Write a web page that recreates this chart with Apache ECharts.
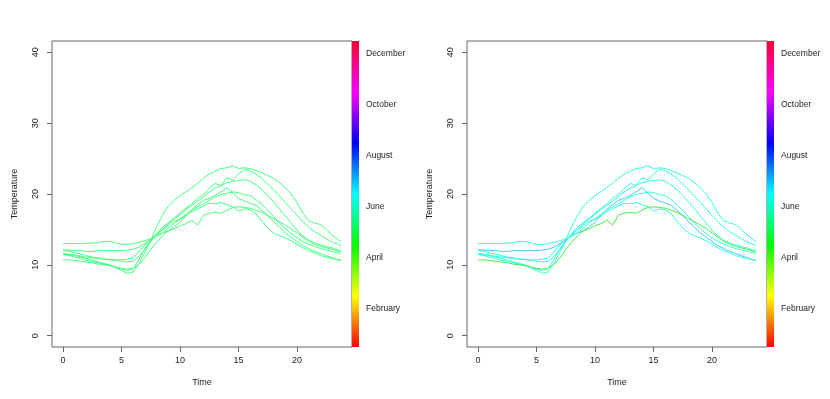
<!DOCTYPE html>
<html>
<head>
<meta charset="utf-8">
<script src="https://cdn.jsdelivr.net/npm/echarts@6/dist/echarts.min.js"></script>
<style>
html, body { margin: 0; padding: 0; background: #fff; }
#chart { width: 830px; height: 399px; }
</style>
</head>
<body>
<div id="chart"></div>
<script>
// hours of the day (every half hour, last reading at 23:45)
var times = [0,0.5,1,1.5,2,2.5,3,3.5,4,4.5,5,5.5,6,6.5,7,7.5,8,8.5,9,9.5,
	10,10.5,11,11.5,12,12.5,13,13.5,14,14.5,15,15.5,16,16.5,17,17.5,18,18.5,19,19.5,
	20,20.5,21,21.5,22,22.5,23,23.5,23.75];

// one temperature curve per day
var day1 = [11.5,11.4,11.3,11.1,10.9,10.7,10.4,10.2,10.0,9.6,
	9.2,8.8,9.0,10.2,11.8,13.5,15.4,17.0,18.3,19.1,
	19.8,20.3,20.9,21.5,22.2,22.8,23.2,23.6,23.7,24.0,
	23.6,23.7,23.6,23.3,23.0,22.6,22.2,21.6,20.9,20.0,
	18.8,17.3,16.2,15.9,15.7,15.0,14.2,13.6,13.3];
var day2 = [12.0,11.9,11.7,11.5,11.3,11.1,11.0,10.8,10.7,10.6,
	10.5,10.4,10.5,11.2,12.2,13.3,14.4,15.3,16.0,16.6,
	17.3,18.0,18.6,19.4,19.9,20.8,21.5,21.2,22.3,22.0,
	22.8,23.5,23.3,22.8,22.2,21.4,20.6,19.7,18.8,17.9,
	17.0,16.1,15.3,14.7,14.2,13.7,13.2,12.9,12.7];
var day3 = [11.6,11.5,11.4,11.2,11.1,11.0,10.9,10.8,10.8,10.7,
	10.7,10.8,11.0,11.9,12.8,13.6,14.3,15.0,15.8,16.5,
	17.1,17.8,18.4,19.0,19.6,20.3,20.8,21.2,21.6,21.8,
	21.9,22.0,21.8,21.3,20.6,19.8,18.9,17.9,16.9,15.9,
	14.9,14.1,13.5,13.1,12.8,12.6,12.4,12.1,12.0];
var day4 = [12.1,12.1,12.0,12.0,11.9,11.9,12.0,12.0,12.0,12.0,
	12.0,12.1,12.2,12.5,13.0,13.6,14.2,14.5,14.8,15.4,
	16.0,16.9,17.8,18.5,19.1,19.4,19.8,20.3,20.9,20.2,
	19.4,19.0,18.7,18.4,17.7,16.9,16.1,15.3,14.5,13.9,
	13.3,12.7,12.3,11.9,11.6,11.3,11.0,10.7,10.6];
var day5 = [13.0,13.0,13.0,13.0,13.0,13.1,13.1,13.3,13.3,13.1,
	12.9,12.9,13.0,13.2,13.4,13.7,14.0,14.5,15.2,15.9,
	16.5,17.1,17.7,18.2,18.6,19.1,19.6,19.9,20.1,20.3,
	20.2,19.9,19.8,19.2,18.5,17.7,16.8,15.9,15.1,14.4,
	13.8,13.3,12.9,12.6,12.3,12.1,11.9,11.7,11.55];
var day6 = [11.45,11.3,11.1,10.9,10.6,10.5,10.3,10.1,9.9,9.6,
	9.4,9.2,9.5,10.8,12.3,13.5,14.3,14.9,15.6,16.2,
	16.4,17.0,17.5,17.9,18.3,18.7,18.6,18.8,18.5,18.2,
	17.6,17.9,17.8,17.2,16.2,15.2,14.5,14.1,13.8,13.4,
	12.9,12.4,12.0,11.7,11.3,11.1,10.9,10.75,10.7];
var day7 = [10.7,10.7,10.6,10.5,10.4,10.3,10.1,10.0,9.9,9.7,
	9.5,9.4,9.5,10.1,11.0,12.2,13.2,14.1,14.8,15.1,
	15.5,15.8,16.3,15.6,17.0,17.3,17.4,17.3,17.7,18.1,
	18.2,18.1,18.0,17.7,17.4,17.0,16.5,16.1,15.6,15.1,
	14.5,13.9,13.3,12.9,12.6,12.4,12.2,11.95,11.8];
var days = [day1, day2, day3, day4, day5, day6, day7];

// colours: left panel one colour, right panel one per day
var leftColors = ['#44FF80','#44FF80','#44FF80','#44FF80','#44FF80','#44FF80','#44FF80'];
var rightColors = ['#33FFDD','#33FFDD','#33FFDD','#40C8FF','#33FFDD','#33FFDD','#44EE44'];

var xTicks = [0, 5, 10, 15, 20];
var yTicks = [0, 10, 20, 30, 40];
var monthPos = [1.5, 3.5, 5.5, 7.5, 9.5, 11.5];
var monthNames = ['February', 'April', 'June', 'August', 'October', 'December'];

var font = 'Liberation Sans, Arial, Helvetica, sans-serif';
var ink = '#222';
var boxCol = '#666';

var chart = echarts.init(document.getElementById('chart'), null, {renderer: 'canvas'});

var plotLeft = [52, 467];
var grids = [], xAxes = [], yAxes = [], series = [];

function rainbow() {
	return new echarts.graphic.LinearGradient(0, 1, 0, 0, [
		{offset: 0, color: '#FF0000'},
		{offset: 1 / 6, color: '#FFFF00'},
		{offset: 2 / 6, color: '#00FF00'},
		{offset: 3 / 6, color: '#00FFFF'},
		{offset: 4 / 6, color: '#0000FF'},
		{offset: 5 / 6, color: '#FF00FF'},
		{offset: 1, color: '#FF0033'}
	]);
}

plotLeft.forEach(function(lx, p) {
	var g = grids.length;
	// plot area
	grids.push({left: lx, top: 41, width: 300, height: 306, show: true,
		borderColor: boxCol, borderWidth: 1, backgroundColor: 'transparent'});
	xAxes.push({
		gridIndex: g, type: 'value', min: -0.95, max: 24.7,
		name: 'Time', nameLocation: 'middle', nameGap: 31,
		nameTextStyle: {fontFamily: font, fontSize: 9, color: ink},
		axisLine: {show: false, onZero: false}, splitLine: {show: false},
		axisTick: {show: true, inside: false, length: 5, customValues: xTicks, lineStyle: {color: boxCol}},
		axisLabel: {customValues: xTicks, fontFamily: font, fontSize: 9, color: ink, margin: 9}
	});
	yAxes.push({
		gridIndex: g, type: 'value', min: -1.6, max: 41.6,
		name: 'Temperature', nameLocation: 'middle', nameGap: 33,
		nameTextStyle: {fontFamily: font, fontSize: 9, color: ink},
		axisLine: {show: false, onZero: false}, splitLine: {show: false},
		axisTick: {show: true, inside: false, length: 5, customValues: yTicks, lineStyle: {color: boxCol}},
		axisLabel: {customValues: yTicks, rotate: 90, fontFamily: font, fontSize: 9, color: ink, margin: 12}
	});
	var cols = p === 0 ? leftColors : rightColors;
	days.forEach(function(d, i) {
		series.push({
			type: 'line', xAxisIndex: g, yAxisIndex: g,
			data: times.map(function(t, k) { return [t, d[k]]; }),
			showSymbol: false, silent: true, animation: false,
			lineStyle: {width: 1, color: cols[i]}
		});
	});

	// colour bar beside the plot
	var c = grids.length;
	grids.push({left: lx + 300, top: 41, width: 7, height: 306});
	xAxes.push({gridIndex: c, type: 'category', data: ['m'], show: false});
	yAxes.push({
		gridIndex: c, type: 'value', min: 0, max: 12, position: 'right',
		axisLine: {show: false}, axisTick: {show: false}, splitLine: {show: false},
		axisLabel: {customValues: monthPos, fontFamily: font, fontSize: 8.5, color: ink, margin: 7,
			formatter: function(v) { return monthNames[monthPos.indexOf(v)]; }}
	});
	series.push({
		type: 'bar', xAxisIndex: c, yAxisIndex: c, data: [12],
		barWidth: '100%', silent: true, animation: false,
		itemStyle: {color: rainbow()}
	});
});

chart.setOption({
	animation: false,
	grid: grids,
	xAxis: xAxes,
	yAxis: yAxes,
	series: series
});
</script>
</body>
</html>
